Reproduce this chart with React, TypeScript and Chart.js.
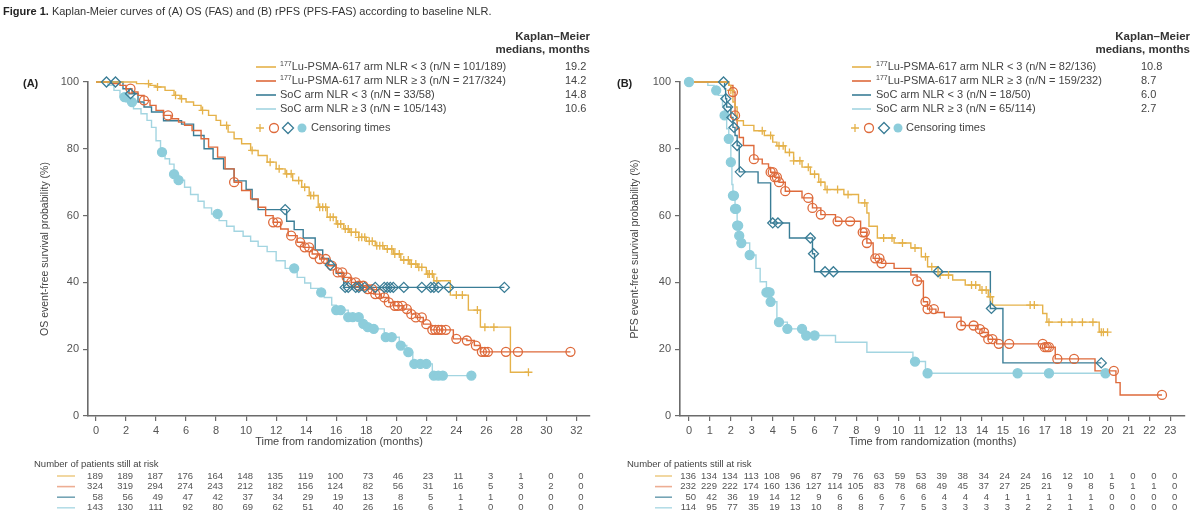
import React, { useEffect, useRef } from 'react';
import { Chart, registerables } from 'chart.js';

Chart.register(...registerables);

const FONT = '"Liberation Sans", Arial, Helvetica, sans-serif';
const GOLD = '#E5B24A';
const ORANGE = '#DE6A3B';
const TEAL = '#3A7D96';
const LIGHT = '#A3D5E1';
const LIGHT_DOT = '#8DCDDB';
const AXIS = '#6b6b6b';
const SERIES_COLORS = [GOLD, ORANGE, TEAL, LIGHT];
const RISK_LINE_COLORS = ['rgba(229,178,74,0.65)', 'rgba(222,106,59,0.55)', 'rgba(58,125,150,0.7)', 'rgba(163,213,225,0.8)'];

// ---------- texts ----------
const figureTitleBold = 'Figure 1.';
const figureTitleRest = ' Kaplan-Meier curves of (A) OS (FAS) and (B) rPFS (PFS-FAS) according to baseline NLR.';
const medianHeader = ['Kaplan–Meier', 'medians, months'];
const xTitle = 'Time from randomization (months)';
const riskTitle = 'Number of patients still at risk';
const censorLabel = 'Censoring times';
const superPrefix = ['177', '177', '', ''];

// ---------- Panel A: OS ----------
const osTicks = [0, 2, 4, 6, 8, 10, 12, 14, 16, 18, 20, 22, 24, 26, 28, 30, 32];
const osLegend = [
  'Lu-PSMA-617 arm NLR < 3 (n/N = 101/189)',
  'Lu-PSMA-617 arm NLR ≥ 3 (n/N = 217/324)',
  'SoC arm NLR < 3 (n/N = 33/58)',
  'SoC arm NLR ≥ 3 (n/N = 105/143)',
];
const osMedians = ['19.2', '14.2', '14.8', '10.6'];

const osLuLowT = [0, 2.7, 3.6, 4.0, 4.6, 5.2, 5.6, 6.0, 6.5, 7.0, 7.5, 8.0, 8.3, 8.8, 9.2, 9.7, 10.3, 10.8, 11.4, 12.0, 12.6, 13.1, 13.7, 14.2, 14.8, 15.4, 16.0, 16.5, 16.9, 17.5, 18.0, 18.6, 19.2, 19.8, 20.3, 20.9, 21.4, 22.0, 22.5, 23.6, 24.8, 25.6, 27.6, 28.8];
const osLuLowS = [100, 99.5, 99, 98.5, 97.5, 96, 95, 94, 93, 91.5, 90, 88.5, 87, 85, 83, 81.5, 79.5, 78, 76, 74, 72.5, 70.5, 68.5, 66, 62.5, 59.5, 57.5, 56, 55, 53.5, 52.3, 51, 50, 48.5, 46.7, 45.5, 44.5, 42.5, 40.5, 36.2, 31.7, 26.6, 13.1, 13.1];
const osLuLowCens = [3.5, 4.1, 5.3, 5.7, 7.1, 8.7, 10.4, 11.6, 12.2, 12.7, 13.0, 13.5, 13.9, 14.3, 14.5, 14.9, 15.1, 15.3, 15.6, 15.8, 16.1, 16.3, 16.6, 16.8, 17.0, 17.3, 17.5, 17.7, 17.9, 18.2, 18.4, 18.7, 18.9, 19.1, 19.4, 19.7, 19.9, 20.2, 20.5, 20.8, 21.0, 21.3, 21.5, 21.7, 22.1, 22.2, 22.4, 22.7, 24.0, 24.4, 25.4, 25.9, 26.5, 28.8];

const osLuHighT = [0, 1.0, 1.6, 2.0, 2.4, 2.8, 3.2, 3.6, 4.0, 4.5, 5.0, 5.5, 5.9, 6.4, 7.0, 7.5, 8.1, 8.6, 9.2, 9.7, 10.3, 10.8, 11.3, 11.8, 12.3, 12.8, 13.4, 13.8, 14.4, 14.9, 15.4, 16.0, 16.5, 17.0, 17.5, 18.0, 18.5, 19.0, 19.5, 19.9, 20.5, 21.0, 21.3, 21.8, 22.3, 23.8, 24.7, 25.2, 25.6, 31.6];
const osLuHighS = [100, 99.5, 99, 98, 97, 96, 94.5, 93, 91.5, 90, 89, 88, 87, 85.5, 83, 80.5, 77.5, 74, 70, 67.5, 65, 62.5, 60, 58, 56, 54, 52, 50.5, 48.5, 47, 45, 43, 41.5, 40, 39, 38, 36.5, 35.5, 34, 33, 32, 30.5, 29.5, 27.5, 25.8, 23.1, 22.6, 21.1, 19.2, 19.2];
const osLuHighCens = [2.3, 3.2, 4.8, 9.2, 11.8, 12.1, 13.0, 13.6, 13.9, 14.2, 14.5, 14.9, 15.3, 15.7, 16.1, 16.4, 16.7, 17.0, 17.3, 17.5, 17.8, 18.1, 18.4, 18.6, 18.9, 19.2, 19.5, 19.9, 20.1, 20.4, 20.7, 21.0, 21.3, 21.7, 22.0, 22.4, 22.6, 22.8, 23.0, 23.3, 24.0, 24.7, 25.3, 25.7, 25.9, 26.1, 27.3, 28.1, 31.6];

const osSocLowT = [0, 1.8, 2.2, 2.8, 3.2, 3.7, 4.5, 5.7, 6.5, 7.2, 7.8, 8.5, 9.2, 10.0, 10.4, 10.8, 12.7, 13.2, 13.8, 14.6, 15.1, 15.5, 16.0, 16.5, 27.2];
const osSocLowS = [100, 98, 96.5, 94, 92.5, 91, 88.4, 87.4, 84, 80, 77, 74, 70.4, 67.8, 64.8, 61.8, 58.3, 55.8, 53.3, 49.7, 47.2, 45.2, 42.7, 38.5, 38.5];
const osSocLowCens = [0.7, 1.3, 2.3, 12.6, 15.6, 16.6, 16.8, 17.3, 17.5, 17.9, 18.6, 19.2, 19.4, 19.6, 19.8, 20.5, 21.7, 22.3, 22.5, 22.8, 23.5, 27.2];

const osSocHighT = [0, 0.8, 1.2, 1.6, 2.0, 2.5, 3.0, 3.4, 3.7, 4.0, 4.3, 4.6, 4.9, 5.2, 5.5, 5.9, 6.3, 6.8, 7.2, 7.7, 8.2, 8.7, 9.2, 9.8, 10.3, 10.8, 11.4, 12.0, 12.6, 13.4, 13.9, 14.3, 14.8, 15.2, 15.7, 16.0, 16.8, 17.6, 18.0, 18.5, 19.2, 20.2, 20.7, 21.1, 22.4, 25.0];
const osSocHighS = [100, 99, 97.5, 95.5, 94, 92, 90.5, 88.5, 86.4, 82.4, 79, 77, 75.4, 72.4, 70.6, 68.5, 66.3, 64.3, 62.3, 60.5, 58.5, 56.8, 55.3, 53.8, 52.3, 50.8, 49.2, 46.5, 44.2, 41.5, 39.8, 38.2, 37, 35.5, 33.2, 31.7, 29.6, 27.6, 26.6, 26.1, 23.6, 21.1, 19.1, 15.6, 12.1, 12.1];
const osSocHighCens = [1.9, 2.4, 4.4, 5.2, 5.5, 8.1, 13.2, 15.0, 16.0, 16.3, 16.8, 17.1, 17.5, 17.8, 18.1, 18.5, 19.3, 19.7, 20.3, 20.8, 21.2, 21.6, 22.0, 22.5, 22.8, 23.1, 25.0];

const osRiskLuLow = [189, 189, 187, 176, 164, 148, 135, 119, 100, 73, 46, 23, 11, 3, 1, 0, 0];
const osRiskLuHigh = [324, 319, 294, 274, 243, 212, 182, 156, 124, 82, 56, 31, 16, 5, 3, 2, 0];
const osRiskSocLow = [58, 56, 49, 47, 42, 37, 34, 29, 19, 13, 8, 5, 1, 1, 0, 0, 0];
const osRiskSocHigh = [143, 130, 111, 92, 80, 69, 62, 51, 40, 26, 16, 6, 1, 0, 0, 0, 0];

// ---------- Panel B: rPFS ----------
const pfsTicks = [0, 1, 2, 3, 4, 5, 6, 7, 8, 9, 10, 11, 12, 13, 14, 15, 16, 17, 18, 19, 20, 21, 22, 23];
const pfsLegend = [
  'Lu-PSMA-617 arm NLR < 3 (n/N = 82/136)',
  'Lu-PSMA-617 arm NLR ≥ 3 (n/N = 159/232)',
  'SoC arm NLR < 3 (n/N = 18/50)',
  'SoC arm NLR ≥ 3 (n/N = 65/114)',
];
const pfsMedians = ['10.8', '8.7', '6.0', '2.7'];

const pfsLuLowT = [0, 1.9, 2.0, 2.1, 2.2, 2.3, 2.6, 3.1, 3.6, 4.0, 4.2, 4.6, 5.0, 5.4, 5.8, 6.2, 6.5, 7.4, 8.1, 8.5, 8.6, 9.0, 9.8, 10.6, 11.1, 11.4, 11.9, 12.6, 13.2, 13.9, 14.3, 14.5, 16.9, 17.1, 19.6, 20.0];
const pfsLuLowS = [100, 99, 97.5, 94, 92.5, 88.4, 87, 85.4, 84, 82, 80.9, 78.9, 76.4, 74.5, 72.4, 70, 67.8, 66.3, 63.8, 60.8, 56.8, 53.3, 51.8, 50.3, 47.7, 44.7, 42.2, 40.7, 39.2, 37.7, 35.7, 33.2, 30.7, 28.1, 25.1, 25.1];
const pfsLuLowCens = [2.0, 3.5, 3.9, 4.3, 4.5, 4.8, 5.0, 5.3, 5.7, 6.0, 6.3, 6.6, 7.1, 7.6, 8.4, 9.3, 9.7, 10.2, 10.8, 11.3, 11.6, 12.0, 12.4, 13.5, 13.7, 14.0, 14.2, 14.4, 16.3, 16.5, 17.2, 17.8, 18.3, 18.8, 19.3, 19.7, 19.8, 20.0];

const pfsLuHighT = [0, 1.9, 2.1, 2.2, 2.3, 2.4, 2.6, 3.1, 3.5, 3.8, 3.9, 4.1, 4.3, 4.6, 5.4, 5.9, 6.3, 7.0, 8.2, 8.5, 8.8, 9.2, 9.8, 10.6, 10.9, 11.2, 11.4, 11.8, 12.2, 13.0, 13.8, 14.0, 14.3, 14.7, 17.0, 17.5, 19.4, 20.4, 20.6, 22.6];
const pfsLuHighS = [100, 99, 97, 90, 86, 83.4, 81, 76.9, 75.5, 74.4, 73, 71.5, 70, 67.3, 65.3, 62.3, 60.3, 58.3, 55, 51.8, 47.2, 45.7, 44.2, 42.2, 40.4, 34.2, 32, 31, 29.6, 27.1, 26, 25, 23, 21.6, 20.6, 17.1, 13.5, 10, 6.3, 6.3];
const pfsLuHighCens = [2.1, 2.2, 3.1, 3.9, 4.0, 4.1, 4.2, 4.3, 4.6, 5.7, 5.9, 6.3, 7.1, 7.7, 8.3, 8.4, 8.5, 8.9, 9.1, 9.2, 10.9, 11.3, 11.4, 11.7, 13.0, 13.6, 13.9, 14.1, 14.3, 14.5, 14.8, 15.3, 16.9, 17.0, 17.1, 17.2, 17.6, 18.4, 20.3, 22.6];

const pfsSocLowT = [0, 1.7, 1.75, 1.8, 2.0, 2.1, 2.2, 2.3, 2.4, 3.3, 3.9, 4.8, 5.9, 6.0, 14.4, 15.0, 19.7];
const pfsSocLowS = [100, 98, 95, 92.5, 89.4, 86.4, 84, 81, 73.1, 69.8, 57.8, 53.3, 48.6, 43.2, 32.2, 15.9, 15.9];
const pfsSocLowCens = [1.65, 1.76, 1.85, 2.05, 2.15, 2.3, 2.45, 4.0, 4.25, 5.8, 5.95, 6.5, 6.9, 11.9, 14.45, 19.7];

const pfsSocHighT = [0, 0.9, 1.2, 1.4, 1.6, 1.7, 1.8, 1.9, 2.0, 2.05, 2.1, 2.2, 2.3, 2.4, 2.5, 2.9, 3.2, 3.4, 3.7, 3.9, 4.2, 4.7, 5.5, 7.0, 8.5, 10.7, 11.3, 20.0];
const pfsSocHighS = [100, 99, 97.5, 96, 93, 90, 86, 83, 76, 69.3, 66, 62, 57, 54, 51.8, 48.2, 44.2, 40.2, 37, 34.2, 28.1, 26.1, 24.1, 22.1, 19.1, 16.3, 12.8, 12.8];
const pfsSocHighCens = [0.0, 1.3, 1.7, 1.9, 2.0, 2.1, 2.15, 2.2, 2.25, 2.3, 2.35, 2.4, 2.5, 2.9, 3.7, 3.75, 3.8, 3.85, 3.9, 4.3, 4.7, 5.4, 5.6, 6.0, 10.8, 11.4, 15.7, 17.2, 19.9];

const pfsRiskLuLow = [136, 134, 134, 113, 108, 96, 87, 79, 76, 63, 59, 53, 39, 38, 34, 24, 24, 16, 12, 10, 1, 0, 0, 0];
const pfsRiskLuHigh = [232, 229, 222, 174, 160, 136, 127, 114, 105, 83, 78, 68, 49, 45, 37, 27, 25, 21, 9, 8, 5, 1, 1, 0];
const pfsRiskSocLow = [50, 42, 36, 19, 14, 12, 9, 6, 6, 6, 6, 6, 4, 4, 4, 1, 1, 1, 1, 1, 0, 0, 0, 0];
const pfsRiskSocHigh = [114, 95, 77, 35, 19, 13, 10, 8, 8, 7, 7, 5, 3, 3, 3, 3, 2, 2, 1, 1, 0, 0, 0, 0];

const yTicks = [0, 20, 40, 60, 80, 100];

// ---------- helpers ----------
function survivalAt(T: number[], S: number[], t: number) {
  let v = S[0];
  for (let i = 0; i < T.length; i++) {
    if (T[i] <= t) v = S[i];
    else break;
  }
  return v;
}

function curve(T: number[], S: number[], color: string) {
  return {
    type: 'line',
    data: T.map((x, i) => ({ x, y: S[i] })),
    borderColor: color,
    borderWidth: 1.4,
    stepped: 'before',
    pointRadius: 0,
    fill: false,
    clip: false,
    order: 20,
  };
}

function censor(T: number[], S: number[], C: number[], style: string, color: string, fill: string, radius: number, order: number) {
  return {
    type: 'line',
    data: C.map((x) => ({ x, y: survivalAt(T, S, x) })),
    showLine: false,
    pointStyle: style,
    pointRadius: radius,
    pointBorderColor: color,
    pointBackgroundColor: fill,
    pointBorderWidth: 1.3,
    clip: false,
    order,
  };
}

function drawMarker(ctx: CanvasRenderingContext2D, kind: number, x: number, y: number) {
  ctx.save();
  ctx.lineWidth = 1.3;
  if (kind === 0) {
    ctx.strokeStyle = GOLD;
    ctx.beginPath();
    ctx.moveTo(x - 4, y); ctx.lineTo(x + 4, y);
    ctx.moveTo(x, y - 4); ctx.lineTo(x, y + 4);
    ctx.stroke();
  } else if (kind === 1) {
    ctx.strokeStyle = ORANGE;
    ctx.beginPath(); ctx.arc(x, y, 4.5, 0, Math.PI * 2); ctx.stroke();
  } else if (kind === 2) {
    ctx.strokeStyle = TEAL;
    ctx.beginPath();
    ctx.moveTo(x, y - 5.5); ctx.lineTo(x + 5.5, y); ctx.lineTo(x, y + 5.5); ctx.lineTo(x - 5.5, y); ctx.closePath();
    ctx.stroke();
  } else {
    ctx.fillStyle = LIGHT_DOT;
    ctx.beginPath(); ctx.arc(x, y, 4.5, 0, Math.PI * 2); ctx.fill();
  }
  ctx.restore();
}

type Panel = {
  tag: string;
  yTitle: string;
  legend: string[];
  medians: string[];
  risk: number[][];
  ticks: number[];
  showTitle: boolean;
  L: any;
};

function makeOverlay(p: Panel) {
  return {
    id: 'overlay',
    afterDraw(chart: any) {
      const ctx: CanvasRenderingContext2D = chart.ctx;
      const ca = chart.chartArea;
      const xs = chart.scales.x;
      const L = p.L;
      ctx.save();
      ctx.textBaseline = 'middle';
      if (p.showTitle) {
        ctx.textAlign = 'left';
        ctx.fillStyle = '#222';
        ctx.font = `bold 11px ${FONT}`;
        ctx.fillText(figureTitleBold, 3, 12);
        const w = ctx.measureText(figureTitleBold).width;
        ctx.font = `11px ${FONT}`;
        ctx.fillStyle = '#333';
        ctx.fillText(figureTitleRest, 3 + w, 12);
      }
      // panel tag
      ctx.textAlign = 'left';
      ctx.fillStyle = '#222';
      ctx.font = `bold 11px ${FONT}`;
      ctx.fillText(p.tag, L.tagX, 84);
      // medians header
      ctx.textAlign = 'right';
      ctx.font = `bold 11.5px ${FONT}`;
      ctx.fillStyle = '#333';
      ctx.fillText(medianHeader[0], L.headerRight, 37);
      ctx.fillText(medianHeader[1], L.headerRight, 50);
      // legend
      p.legend.forEach((label, i) => {
        const y = 67 + i * 14;
        ctx.strokeStyle = SERIES_COLORS[i];
        ctx.lineWidth = 1.6;
        ctx.beginPath();
        ctx.moveTo(L.legLine0, y); ctx.lineTo(L.legLine1, y);
        ctx.stroke();
        let x = L.legText;
        ctx.textAlign = 'left';
        ctx.fillStyle = '#444';
        if (superPrefix[i]) {
          ctx.font = `7px ${FONT}`;
          ctx.fillText(superPrefix[i], x, y - 3);
          x += ctx.measureText(superPrefix[i]).width;
        }
        ctx.font = `11px ${FONT}`;
        ctx.fillText(label, x, y);
        ctx.fillText(p.medians[i], L.medX, y);
      });
      // censoring legend
      L.censX.forEach((cx: number, k: number) => drawMarker(ctx, k, cx, 128));
      ctx.font = `11px ${FONT}`;
      ctx.fillStyle = '#444';
      ctx.textAlign = 'left';
      ctx.fillText(censorLabel, L.censText, 128);
      // y title
      ctx.save();
      ctx.translate(L.yTitleX, (ca.top + ca.bottom) / 2);
      ctx.rotate(-Math.PI / 2);
      ctx.textAlign = 'center';
      ctx.font = `10.5px ${FONT}`;
      ctx.fillStyle = '#444';
      ctx.fillText(p.yTitle, 0, 0);
      ctx.restore();
      // x title
      ctx.textAlign = 'center';
      ctx.font = `11px ${FONT}`;
      ctx.fillStyle = '#444';
      ctx.fillText(xTitle, (ca.left + ca.right) / 2, 442);
      // risk table
      ctx.textAlign = 'left';
      ctx.font = `9.5px ${FONT}`;
      ctx.fillStyle = '#444';
      ctx.fillText(riskTitle, L.riskTitleX, 464);
      p.risk.forEach((row, r) => {
        const y = 476 + r * 10.6;
        ctx.strokeStyle = RISK_LINE_COLORS[r];
        ctx.lineWidth = 1.6;
        ctx.beginPath();
        ctx.moveTo(L.riskLine0, y); ctx.lineTo(L.riskLine1, y);
        ctx.stroke();
        ctx.textAlign = 'right';
        ctx.fillStyle = '#555';
        row.forEach((n, i) => {
          ctx.fillText(String(n), xs.getPixelForValue(p.ticks[i]) + 7, y);
        });
      });
      ctx.restore();
    },
  };
}

function buildConfig(p: Panel, datasets: any[], xMin: number, xMax: number, yWidth: number, padRight: number) {
  const axisCommon = {
    grid: { display: true, drawOnChartArea: false, drawTicks: true, tickLength: 5, color: AXIS, lineWidth: 1.2 },
    border: { display: true, color: AXIS, width: 1.6 },
  };
  return {
    type: 'line',
    data: { datasets },
    options: {
      responsive: false,
      animation: false,
      events: [],
      layout: { padding: { left: 0, top: 82, right: padRight, bottom: 0 } },
      plugins: { legend: { display: false }, tooltip: { enabled: false }, title: { display: false } },
      scales: {
        x: {
          type: 'linear',
          min: xMin,
          max: xMax,
          ...axisCommon,
          afterBuildTicks: (s: any) => { s.ticks = p.ticks.map((v) => ({ value: v })); },
          afterFit: (s: any) => { s.height = 108; },
          ticks: { font: { family: FONT, size: 11 }, color: '#555', padding: 3, maxRotation: 0, autoSkip: false },
        },
        y: {
          type: 'linear',
          min: 0,
          max: 100,
          ...axisCommon,
          afterBuildTicks: (s: any) => { s.ticks = yTicks.map((v) => ({ value: v })); },
          afterFit: (s: any) => { s.width = yWidth; },
          ticks: { font: { family: FONT, size: 11 }, color: '#555', padding: 4 },
        },
      },
    },
    plugins: [makeOverlay(p)],
  };
}

const panelA: Panel = {
  tag: '(A)',
  yTitle: 'OS event-free survival probability (%)',
  legend: osLegend,
  medians: osMedians,
  risk: [osRiskLuLow, osRiskLuHigh, osRiskSocLow, osRiskSocHigh],
  ticks: osTicks,
  showTitle: true,
  L: { tagX: 23, headerRight: 590, legLine0: 256, legLine1: 276, legText: 280, medX: 565, censX: [260, 274, 288, 302], censText: 311, yTitleX: 45, riskTitleX: 34, riskLine0: 57, riskLine1: 75 },
};

const panelB: Panel = {
  tag: '(B)',
  yTitle: 'PFS event-free survival probability (%)',
  legend: pfsLegend,
  medians: pfsMedians,
  risk: [pfsRiskLuLow, pfsRiskLuHigh, pfsRiskSocLow, pfsRiskSocHigh],
  ticks: pfsTicks,
  showTitle: false,
  L: { tagX: 17, headerRight: 590, legLine0: 252, legLine1: 271, legText: 276, medX: 541, censX: [255, 269, 284, 298], censText: 306, yTitleX: 35, riskTitleX: 27, riskLine0: 55, riskLine1: 72 },
};

const TRANSPARENT = 'rgba(255,255,255,0)';

const datasetsA = [
  curve(osLuLowT, osLuLowS, GOLD),
  curve(osLuHighT, osLuHighS, ORANGE),
  curve(osSocLowT, osSocLowS, TEAL),
  curve(osSocHighT, osSocHighS, LIGHT),
  censor(osSocLowT, osSocLowS, osSocLowCens, 'rectRot', TEAL, TRANSPARENT, 5, 1),
  censor(osLuHighT, osLuHighS, osLuHighCens, 'circle', ORANGE, TRANSPARENT, 4.5, 2),
  censor(osLuLowT, osLuLowS, osLuLowCens, 'cross', GOLD, GOLD, 4, 3),
  censor(osSocHighT, osSocHighS, osSocHighCens, 'circle', LIGHT_DOT, LIGHT_DOT, 4.5, 4),
];

const datasetsB = [
  curve(pfsLuLowT, pfsLuLowS, GOLD),
  curve(pfsLuHighT, pfsLuHighS, ORANGE),
  curve(pfsSocLowT, pfsSocLowS, TEAL),
  curve(pfsSocHighT, pfsSocHighS, LIGHT),
  censor(pfsSocLowT, pfsSocLowS, pfsSocLowCens, 'rectRot', TEAL, TRANSPARENT, 5, 1),
  censor(pfsLuHighT, pfsLuHighS, pfsLuHighCens, 'circle', ORANGE, TRANSPARENT, 4.5, 2),
  censor(pfsLuLowT, pfsLuLowS, pfsLuLowCens, 'cross', GOLD, GOLD, 4, 3),
  censor(pfsSocHighT, pfsSocHighS, pfsSocHighCens, 'circle', LIGHT_DOT, LIGHT_DOT, 4.5, 4),
];

export default function App() {
  const refA = useRef<HTMLCanvasElement | null>(null);
  const refB = useRef<HTMLCanvasElement | null>(null);

  useEffect(() => {
    document.body.style.margin = '0';
    const a = new Chart(refA.current as HTMLCanvasElement, buildConfig(panelA, datasetsA, -0.53, 32.9, 88, 10) as any);
    const b = new Chart(refB.current as HTMLCanvasElement, buildConfig(panelB, datasetsB, -0.43, 23.7, 80, 15) as any);
    return () => {
      a.destroy();
      b.destroy();
    };
  }, []);

  return (
    <div style={{ position: 'fixed', left: 0, top: 0, width: 1200, height: 524, background: '#fff' }}>
      <canvas ref={refA} width={600} height={524} style={{ position: 'absolute', left: 0, top: 0, width: 600, height: 524 }} />
      <canvas ref={refB} width={600} height={524} style={{ position: 'absolute', left: 600, top: 0, width: 600, height: 524 }} />
    </div>
  );
}
